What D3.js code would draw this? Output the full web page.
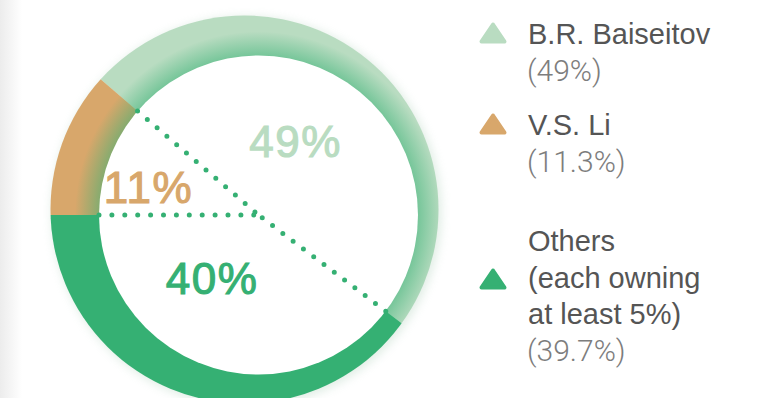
<!DOCTYPE html>
<html><head><meta charset="utf-8">
<script src="https://cdn.jsdelivr.net/npm/d3@7"></script>
<style>html,body{margin:0;padding:0;background:#fff;overflow:hidden}</style>
</head><body>
<svg id="chart" width="763" height="398"></svg>
<script>
// Shareholder structure
const owners = ["B.R. Baiseitov", "V.S. Li", "Others"];
const shares = [49, 11.3, 39.7];
const ringLabels = ["49%", "11%", "40%"];
const legendNames = [["B.R. Baiseitov"], ["V.S. Li"], ["Others", "(each owning", "at least 5%)"]];
const legendShares = ["(49%)", "(11.3%)", "(39.7%)"];
const palette = ["#b9dcc1", "#d8a76b", "#35b073"];

const W = 763, H = 398;
const outer = {x: 244.5, y: 209.5, r: 194};
const hole = {x: 258.5, y: 215, r: 159.5};
const svg = d3.select("#chart");
const defs = svg.append("defs");

// soft shading along the left page edge
const edge = defs.append("linearGradient").attr("id", "edgeShade")
  .attr("x1", 0).attr("x2", 1).attr("y1", 0).attr("y2", 0);
edge.append("stop").attr("offset", 0).attr("stop-color", "#ececec");
edge.append("stop").attr("offset", 1).attr("stop-color", "#ffffff");
svg.append("rect").attr("width", 22).attr("height", H).attr("fill", "url(#edgeShade)");

// faint glow around the ring
const glow = defs.append("filter").attr("id", "glow")
  .attr("x", -0.2).attr("y", -0.2).attr("width", 1.4).attr("height", 1.4);
glow.append("feGaussianBlur").attr("stdDeviation", 5);
svg.append("circle").attr("cx", outer.x + 2).attr("cy", outer.y + 2).attr("r", outer.r + 1)
  .attr("fill", "#a9cdb6").attr("opacity", 0.35).attr("filter", "url(#glow)");

defs.append("clipPath").attr("id", "ringClip")
  .append("circle").attr("cx", outer.x).attr("cy", outer.y).attr("r", outer.r);

// inner shadow cast by the hole onto the ring
const shade = defs.append("radialGradient").attr("id", "holeShade")
  .attr("gradientUnits", "userSpaceOnUse")
  .attr("cx", hole.x).attr("cy", hole.y).attr("r", hole.r + 24);
const k = hole.r / (hole.r + 24);
shade.append("stop").attr("offset", 0).attr("stop-color", "#35b073").attr("stop-opacity", 0.5);
shade.append("stop").attr("offset", k).attr("stop-color", "#35b073").attr("stop-opacity", 0.5);
shade.append("stop").attr("offset", 1).attr("stop-color", "#35b073").attr("stop-opacity", 0);

// pie laid out counter-clockwise so V.S. Li / Others meet at the left horizontal
const total = d3.sum(shares);
const start = 1.5 * Math.PI + (shares[0] + shares[1]) / total * 2 * Math.PI;
const pie = d3.pie().sort(null).value(d => d).startAngle(start).endAngle(start - 2 * Math.PI);
const arcs = pie(shares);
const arc = d3.arc().innerRadius(0).outerRadius(300);

const ring = svg.append("g").attr("clip-path", "url(#ringClip)");
const wedges = ring.append("g").attr("transform", `translate(${hole.x},${hole.y})`);
wedges.selectAll("path").data(arcs).join("path")
  .attr("d", arc).attr("fill", (d, i) => palette[i]);
ring.append("circle").attr("cx", hole.x).attr("cy", hole.y).attr("r", hole.r + 24)
  .attr("fill", "url(#holeShade)");
svg.append("circle").attr("cx", hole.x).attr("cy", hole.y).attr("r", hole.r).attr("fill", "#fff");

// dotted radii along the slice boundaries
const inner = svg.append("g").attr("transform", `translate(${hole.x},${hole.y})`);
inner.selectAll("line.sep").data(arcs).join("line").attr("class", "sep")
  .attr("x1", d => hole.r * Math.sin(d.startAngle))
  .attr("y1", d => -hole.r * Math.cos(d.startAngle))
  .attr("x2", 0).attr("y2", 0)
  .attr("stroke", "#35b073").attr("stroke-width", 5)
  .attr("stroke-linecap", "round").attr("stroke-dasharray", "0 12.9");

// percentage labels inside the ring
const labelOffsets = [[37, -58], [-110, -12.5], [-46.5, 79]];
inner.selectAll("text").data(arcs).join("text")
  .attr("x", (d, i) => labelOffsets[i][0]).attr("y", (d, i) => labelOffsets[i][1])
  .attr("text-anchor", "middle")
  .attr("font-family", "'Liberation Sans', Arial, sans-serif")
  .attr("font-size", 44).attr("letter-spacing", 1.5)
  .attr("fill", (d, i) => palette[i])
  .attr("stroke", (d, i) => palette[i]).attr("stroke-width", 1.1)
  .text((d, i) => ringLabels[i]);

// legend
const legendX = 528, markX = 493;
const legendTop = [44, 135, 251];
const markY = [33, 124, 279];
const lineGap = 36.5;
const legend = svg.append("g");
owners.forEach((name, i) => {
  const g = legend.append("g");
  g.append("path")
    .attr("d", `M${markX},${markY[i] - 8.5}L${markX + 11.5},${markY[i] + 8.5}L${markX - 11.5},${markY[i] + 8.5}Z`)
    .attr("fill", palette[i]).attr("stroke", palette[i])
    .attr("stroke-width", 4).attr("stroke-linejoin", "round");
  const lines = legendNames[i];
  lines.forEach((t, j) => {
    g.append("text").attr("x", legendX).attr("y", legendTop[i] + j * lineGap)
      .attr("font-family", "'Liberation Sans', Arial, sans-serif")
      .attr("font-size", 29).attr("fill", "#555555").text(t);
  });
  g.append("text").attr("x", legendX - 1).attr("y", legendTop[i] + lines.length * lineGap)
    .attr("font-family", "Roboto, 'Liberation Sans', sans-serif").attr("font-weight", 300)
    .attr("font-size", 30).attr("fill", "#7d7d7d").text(legendShares[i]);
});
</script>
</body></html>
